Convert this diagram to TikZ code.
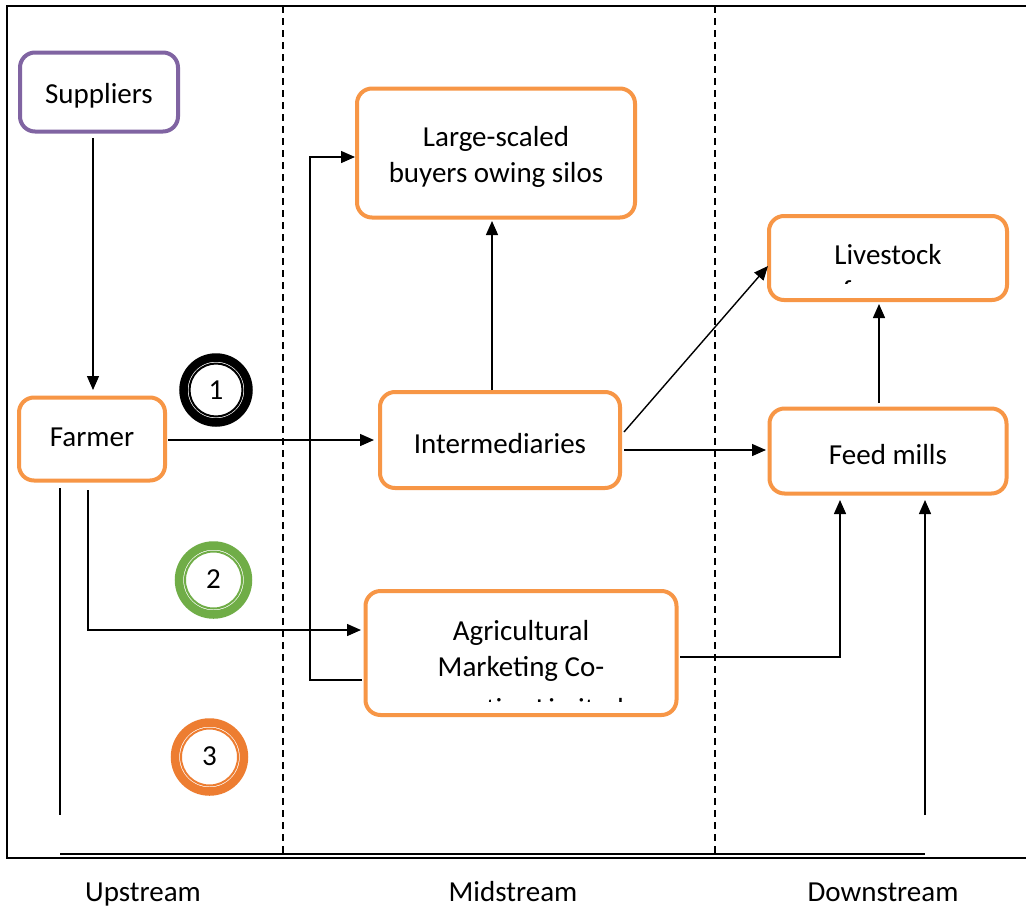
\documentclass[tikz,border=0pt]{standalone}
\usepackage{fontspec}
\setmainfont{Carlito}
\usetikzlibrary{arrows.meta}
\definecolor{boxorange}{HTML}{F79646}
\definecolor{boxpurple}{HTML}{8064A2}
\definecolor{ringgreen}{HTML}{70AD47}
\definecolor{ringorange}{HTML}{ED7D31}
\tikzset{
  flowbox/.style={draw=boxorange, line width=4pt, rounded corners=15pt, inner sep=0pt},
  lbl/.style={inner sep=0pt, align=center, font=\fontsize{29}{36}\selectfont},
  conn/.style={line width=1.4pt, -{Triangle[length=14pt,width=12pt]}},
  plain/.style={line width=1.4pt},
  divider/.style={line width=1.3pt, dash pattern=on 7pt off 5pt},
  ringouter/.style={line width=8.5pt},
  ringinner/.style={line width=2pt}
}
\begin{document}
\begin{tikzpicture}[x=1pt,y=-1pt]
\useasboundingbox[fill=white] (0,0) rectangle (1026,908);
% frame
\draw[line width=2.5pt] (1030,6) -- (7,6) -- (7,858) -- (1030,858);
% dividers
\draw[divider] (283,6) -- (283,855);
\draw[divider] (715,6) -- (715,855);
\draw[line width=2pt] (60,854) -- (925,854);

% boxes
\node[flowbox, draw=boxpurple, minimum width=158pt, minimum height=79pt] (sup) at (99,92) {};
\node[lbl] (suptxt) at (99,96) {Suppliers};

\node[flowbox, minimum width=278pt, minimum height=129pt] (large) at (496,153) {};
\node[lbl] (largetxt) at (496,157) {Large-scaled\\buyers owing silos};

\node[flowbox, minimum width=238pt, minimum height=84pt] (live) at (888,258) {};
\begin{scope}
\clip (772,220) rectangle (1004,283);
\node[lbl, anchor=north] (livetxt) at (888,244) {Livestock\\farmers};
\end{scope}

\node[flowbox, minimum width=146pt, minimum height=83pt] (farmer) at (92,439) {};
\node[lbl] (farmertxt) at (92,437) {Farmer};

\node[flowbox, minimum width=240pt, minimum height=96pt] (inter) at (500,440) {};
\node[lbl] (intertxt) at (500,444) {Intermediaries};

\node[flowbox, minimum width=237pt, minimum height=85pt] (feed) at (888,451) {};
\node[lbl] (feedtxt) at (888,455) {Feed mills};

\node[flowbox, minimum width=311pt, minimum height=124pt] (agri) at (521,653) {};
\begin{scope}
\clip (370,595) rectangle (673,701);
\node[lbl, anchor=north] (agritxt) at (521,620) {Agricultural\\Marketing Co-\\[6pt]operative Limited};
\end{scope}

% rings
\draw[ringouter] (216,390) circle[radius=32.5pt];
\draw[ringinner] (216,390) circle[radius=26.5pt];
\node[lbl] (n1) at (216,390) {1};

\draw[ringouter, ringgreen] (213.5,580) circle[radius=34.5pt];
\draw[ringinner, ringgreen] (213.5,580) circle[radius=28.5pt];
\node[lbl] (n2) at (213.5,579) {2};

\draw[ringouter, ringorange] (209.5,757) circle[radius=34.5pt];
\draw[ringinner, ringorange] (209.5,757) circle[radius=28.5pt];
\node[lbl] (n3) at (209.5,756) {3};

% helper coordinates
\coordinate (supout) at (93,138);
\coordinate (farmin) at (93,390);
\coordinate (farmright) at (168,440);
\coordinate (interleft) at (374,440);
\coordinate (intertop) at (492,390);
\coordinate (largebot) at (492,221);
\coordinate (interr1) at (624,432);
\coordinate (livein) at (768,266);
\coordinate (interr2) at (624,450);
\coordinate (feedin) at (766,450);
\coordinate (feedtop) at (879,403);
\coordinate (livebot) at (879,304);
\coordinate (farmbot) at (88,490);
\coordinate (agriin) at (361,630);
\coordinate (agriout) at (362,680);
\coordinate (largein) at (355,157);
\coordinate (agriright) at (680,657);
\coordinate (feedbot1) at (840,500);
\coordinate (rightstart) at (925,815);
\coordinate (feedbot2) at (925,500);
\coordinate (lefttop) at (60,488);
\coordinate (leftbot) at (60,815);

% connectors
\draw[conn] (supout) -- (farmin);
\draw[conn] (farmright) -- (interleft);
\draw[conn] (intertop) -- (largebot);
\draw[conn] (interr1) -- (livein);
\draw[conn] (interr2) -- (feedin);
\draw[conn] (feedtop) -- (livebot);
\draw[conn] (farmbot) |- (agriin);
\draw[conn] (agriout) -- (310,680) |- (largein);
\draw[conn] (agriright) -| (feedbot1);
\draw[conn] (rightstart) -- (feedbot2);
\draw[plain] (lefttop) -- (leftbot);
% bottom labels
\node[lbl, anchor=base] (up) at (143,901) {Upstream};
\node[lbl, anchor=base] (mid) at (513,901) {Midstream};
\node[lbl, anchor=base] (down) at (883,901) {Downstream};
\end{tikzpicture}
\end{document}
